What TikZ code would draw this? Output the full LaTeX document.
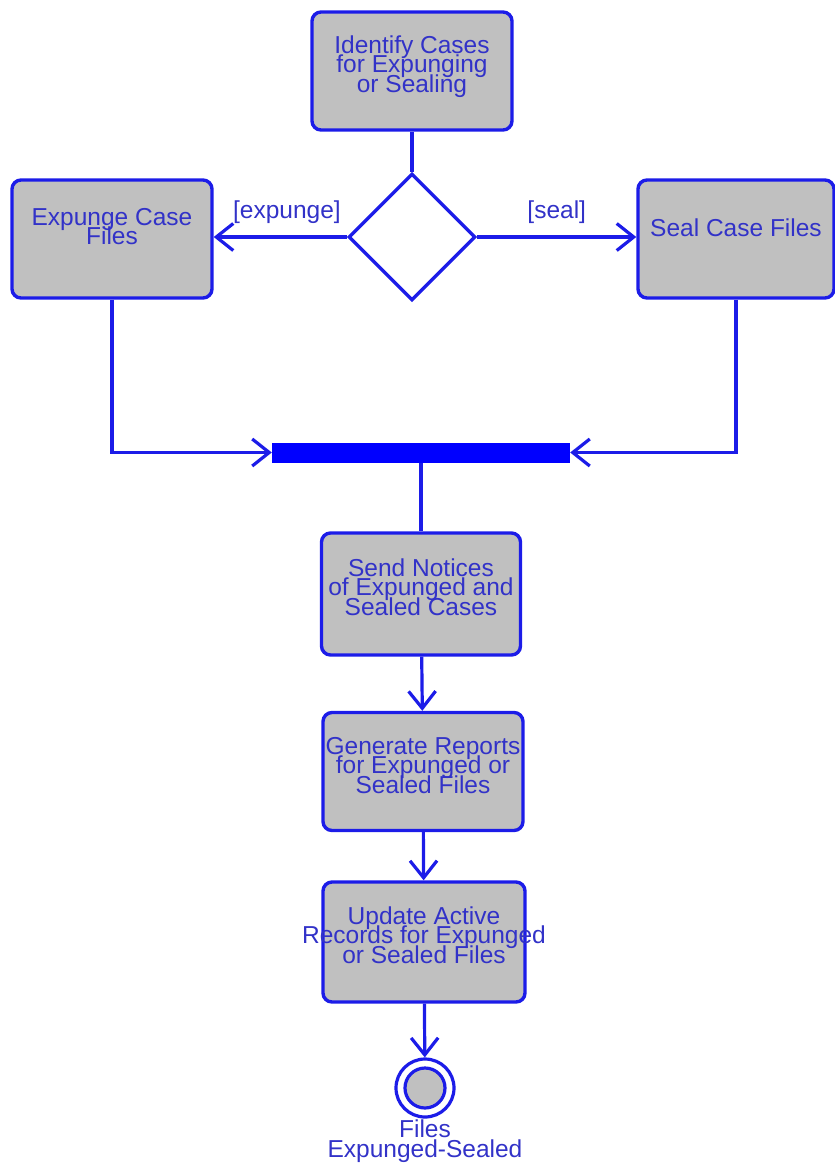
\documentclass[tikz,border=0pt]{standalone}
\usepackage{fontspec}
\setmainfont{Liberation Sans}
\usepackage{tikz}
\usetikzlibrary{arrows.meta,shapes.geometric}

\definecolor{umlblue}{RGB}{28,28,232}
\definecolor{umltext}{RGB}{50,50,200}
\definecolor{umlgray}{RGB}{192,192,192}

\newcommand{\umlfont}{\fontsize{24.5pt}{19.5pt}\selectfont\lineskiplimit=-30pt}

\begin{document}
\begin{tikzpicture}[
				x=1pt, y=-1pt,
				act style/.style={
					draw=umlblue,
					line width=3.4pt,
					rounded corners=9pt,
					fill=umlgray,
					align=center,
					text=umltext,
					font=\umlfont,
					minimum width=200pt,
					minimum height=118pt,
					inner sep=0pt
				},
				lift/.style={text depth=#1},
				guard style/.style={
					text=umltext,
					font=\umlfont,
					inner sep=0pt
				},
				decision style/.style={
					diamond,
					draw=umlblue,
					line width=3.4pt,
					fill=white,
					aspect=1,
					minimum width=127pt,
					minimum height=127pt,
					inner sep=0pt
				},
				bar style/.style={
					fill=blue,
					minimum width=298pt,
					minimum height=20pt,
					inner sep=0pt
				},
				final style/.style={
					circle,
					draw=umlblue,
					line width=3.2pt,
					fill=white,
					minimum size=58pt,
					inner sep=0pt,
					path picture={\draw[umlblue, line width=3.2pt, fill=umlgray]
						(path picture bounding box.center) circle (20pt);}
				},
				flow/.style={draw=umlblue, line width=3.2pt},
				>={Straight Barb[length=17pt,width=27pt]}
				]
				
				\useasboundingbox (0,0) rectangle (835,1163);
				
				\node[act style, lift=14.5pt] (identify) at (412,71)
				{Identify Cases\\for Expunging\\or Sealing};
				
				\node[decision style] (decision) at (412,237) {};
				
				\node[act style, lift=25.5pt] (expunge) at (112,239)
				{Expunge Case\\Files};
				
				\node[act style, lift=22.5pt, minimum width=196pt] (seal) at (736,239)
				{Seal Case Files};
				
				\node[bar style] (sync) at (421,452.5) {};
				
				\node[act style, lift=14.5pt, minimum width=199pt, minimum height=122pt] (notices) at (421,594)
				{Send Notices\\of Expunged and\\Sealed Cases};
				
				\node[act style, lift=12.5pt] (reports) at (423,771.5)
				{\makebox[190pt]{Generate Reports}\\for Expunged or\\Sealed Files};
				
				\node[act style, lift=14.5pt, minimum width=202pt, minimum height=120pt] (records) at (424,942)
				{Update Active\\\makebox[190pt]{Records for Expunged}\\or Sealed Files};
				
				\node[final style,
					label={[guard style, align=center, label distance=1pt]below:Files\\Expunged-Sealed}]
				(done) at (425,1088) {};
				
				\draw[flow] (identify) -- (decision);
				\draw[flow, ->] (decision.west) -- (decision.west -| expunge.east)
					node[guard style, pos=0.45, above=12pt] {[expunge]};
				\draw[flow, ->] (decision.east) -- (decision.east -| seal.west)
					node[guard style, midway, above=12pt] {[seal]};
				\draw[flow, ->] (expunge.south) |- (sync.west);
				\draw[flow, ->] (seal.south) |- (sync.east);
				\draw[flow] (sync) -- (notices);
				\draw[flow, ->] (notices) -- (reports);
				\draw[flow, ->] (reports) -- (records);
				\draw[flow, ->] (records) -- (done);
				
\end{tikzpicture}
\end{document}
